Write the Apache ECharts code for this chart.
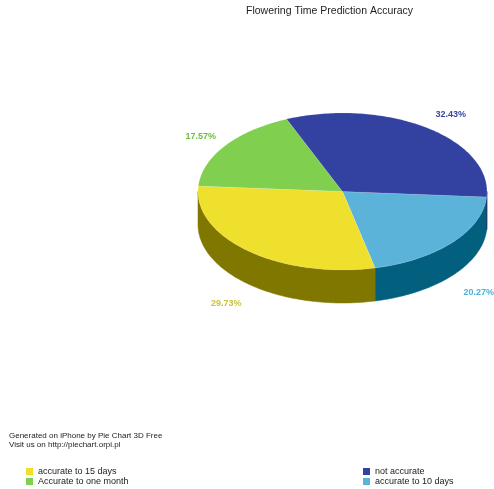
<!DOCTYPE html>
<html><head><meta charset="utf-8">
<script src="https://cdn.jsdelivr.net/npm/echarts@6/dist/echarts.min.js"></script>
<style>html,body{margin:0;padding:0;background:#fff}#c{width:494px;height:489px}</style>
</head><body><div id="c"></div>
<script>
// ---- data ----
const categories = ['accurate to 10 days', 'accurate to 15 days', 'Accurate to one month', 'not accurate'];
const counts = [15, 22, 13, 24];
const legendLeft = ['accurate to 15 days', 'Accurate to one month'];
const legendRight = ['not accurate', 'accurate to 10 days'];

// ---- styles ----
const topColors = ['#5cb3da', '#efe02e', '#80cf4e', '#3341a0'];
const sideColors = ['#02607e', '#7f7700', '#3f7020', '#1a2060'];
const labelColors = ['#4fb0d8', '#c9c23c', '#6cc040', '#3a46a0'];

const total = counts.reduce((a, b) => a + b, 0);
const START = 4;           // degrees, clockwise from 3 o'clock
const CX = 342.5, CY = 191.5, RX = 144.5, RY = 78.5, DEPTH = 33;

function pt(deg, dy) {
  const r = deg * Math.PI / 180;
  return [CX + RX * Math.cos(r), CY + RY * Math.sin(r) + (dy || 0)];
}
function arc(a0, a1, dy) {
  const pts = [];
  const n = Math.max(2, Math.ceil(Math.abs(a1 - a0)));
  for (let i = 0; i <= n; i++) pts.push(pt(a0 + (a1 - a0) * i / n, dy));
  return pts;
}

function renderItem(params, api) {
  const idx = params.dataIndex;
  const v = api.value(0);
  let before = 0;
  for (let i = 0; i < idx; i++) before += counts[i];
  const a0 = START + before / total * 360;
  const a1 = a0 + v / total * 360;
  const children = [];
  [[0, 180], [360, 540]].forEach(r => {
    const lo = Math.max(a0, r[0]), hi = Math.min(a1, r[1]);
    if (hi > lo) {
      const pts = arc(lo, hi, 0).concat(arc(hi, lo, DEPTH));
      children.push({ type: 'polygon', z2: 1, shape: { points: pts },
        style: { fill: sideColors[idx], stroke: sideColors[idx], lineWidth: 0.5 } });
    }
  });
  children.push({ type: 'polygon', z2: 10, shape: { points: [[CX, CY]].concat(arc(a0, a1, 0)) },
    style: { fill: topColors[idx], stroke: 'rgba(255,255,255,0.25)', lineWidth: 0.5 } });
  const mid = (a0 + a1) / 2 * Math.PI / 180;
  const s = Math.sin(mid), c = Math.cos(mid);
  const lx = CX + 1.24 * RX * c + (c > 0 && s < 0 ? 4 : 0) + (c < 0 && s < 0 ? 4 : 0);
  const ly = CY + 1.2 * RY * s + (s > 0 ? DEPTH + 7 : 0);
  children.push({ type: 'text', z2: 20, x: lx, y: ly,
    style: { text: (v / total * 100).toFixed(2) + '%', fill: labelColors[idx],
      font: 'bold 9px "Liberation Sans", Arial, sans-serif',
      align: 'center', verticalAlign: 'middle', textAlign: 'center', textVerticalAlign: 'middle' } });
  return { type: 'group', children: children };
}

const chart = echarts.init(document.getElementById('c'));
const legendText = { fontSize: 9, color: '#222', fontFamily: '"Liberation Sans", Arial, sans-serif', lineHeight: 9 };
chart.setOption({
  animation: false,
  backgroundColor: '#fff',
  title: {
    text: 'Flowering Time Prediction Accuracy', left: 246, top: 6, padding: 0,
    textStyle: { fontSize: 10.5, fontWeight: 'normal', color: '#222', fontFamily: '"Liberation Sans", Arial, sans-serif' }
  },
  legend: [
    { data: legendLeft, orient: 'vertical', left: 26, top: 467, padding: 0, itemWidth: 7, itemHeight: 7, itemGap: 1,
      itemTextGap: 3, icon: 'rect', selectedMode: false, textStyle: legendText },
    { data: legendRight, orient: 'vertical', left: 363, top: 467, padding: 0, itemWidth: 7, itemHeight: 7, itemGap: 1,
      itemTextGap: 3, icon: 'rect', selectedMode: false, textStyle: legendText }
  ],
  graphic: [{
    type: 'text', left: 9, top: 432,
    style: { text: 'Generated on iPhone by Pie Chart 3D Free\nVisit us on http://piechart.orpi.pl',
      font: '8px "Liberation Sans", Arial, sans-serif', fill: '#222', lineHeight: 8.5 }
  }],
  series: [
    { type: 'pie', name: 'legend', center: [-500, -500], radius: 1, silent: true,
      label: { show: false }, labelLine: { show: false },
      data: categories.map((n, i) => ({ name: n, value: counts[i], itemStyle: { color: topColors[i] } })) },
    { type: 'custom', name: '3d', coordinateSystem: 'none', renderItem: renderItem,
      data: counts.map(v => [v]) }
  ]
});
</script></body></html>
